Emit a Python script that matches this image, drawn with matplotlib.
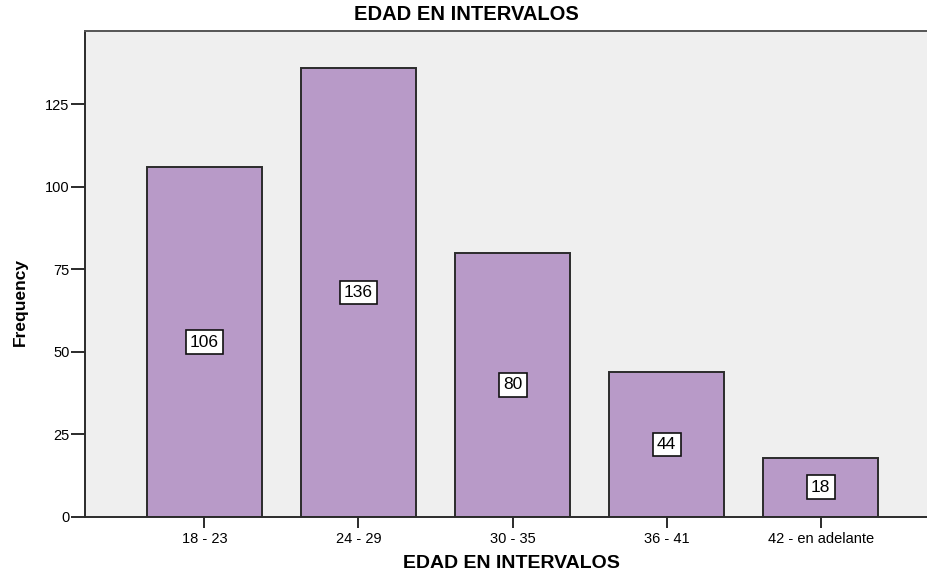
import numpy as np
import matplotlib
matplotlib.use("Agg")
import matplotlib.pyplot as plt

plt.rcParams['font.family'] = ['Liberation Sans', 'DejaVu Sans']

# data
categories = ['18 - 23', '24 - 29', '30 - 35', '36 - 41', '42 - en adelante']
counts = [106, 136, 80, 44, 18]
yticks = [0, 25, 50, 75, 100, 125]

bar_color = '#B89AC8'
bg_color = '#EFEFEF'
edge_color = '#2b2b2b'

fig = plt.figure(figsize=(9.27, 5.76), dpi=100)
ax = fig.add_axes([85/927, 1-517/576, (927-85)/927, (517-31)/576])
ax.set_facecolor(bg_color)

x = np.arange(len(categories))
ax.bar(x, counts, width=0.75, color=bar_color, edgecolor=edge_color, linewidth=1.4, zorder=2)

# value labels in white boxes, at half the bar height
for xi, c in zip(x, counts):
    ax.text(xi, c/2, str(c), ha='center', va='center', fontsize=12.5, zorder=3,
            bbox=dict(boxstyle='square,pad=0.25', facecolor='white', edgecolor='#111111', linewidth=1.2))

ax.set_xlim(-0.775, 4.69)
ax.set_ylim(0, 147.2)
ax.set_xticks(x)
ax.set_xticklabels(categories, fontsize=10.5)
ax.set_yticks(yticks)
ax.set_yticklabels([str(t) for t in yticks], fontsize=10.5)

ax.tick_params(axis='y', direction='out', length=10, width=1.4, color=edge_color, pad=1)
ax.tick_params(axis='x', direction='out', length=8, width=1.4, color=edge_color, pad=3)

ax.spines['right'].set_visible(False)
for s in ['left', 'bottom']:
    ax.spines[s].set_color(edge_color)
    ax.spines[s].set_linewidth(1.4)
ax.spines['top'].set_color('#555555')
ax.spines['top'].set_linewidth(1.4)

fig.text(466/927, 1-15/576, 'EDAD EN INTERVALOS', ha='center', va='center',
         fontsize=14.5, fontweight='bold')
fig.text(511/927, 1-563/576, 'EDAD EN INTERVALOS', ha='center', va='center',
         fontsize=14, fontweight='bold')
fig.text(20/927, 274/576, 'Frequency', ha='center', va='center', rotation=90,
         fontsize=12.5, fontweight='bold')

fig.savefig('out.png', dpi=100)
